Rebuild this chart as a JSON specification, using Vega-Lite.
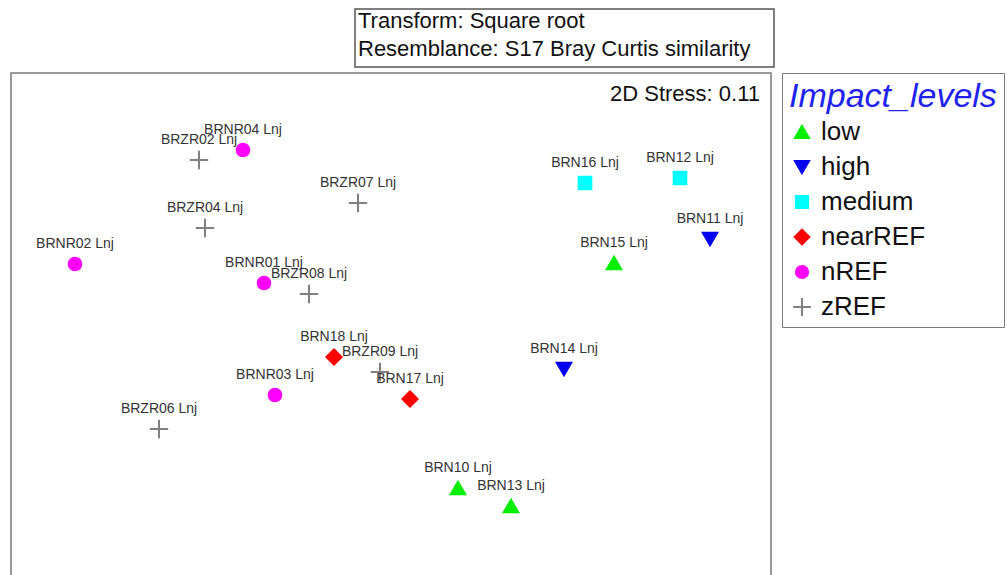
{
  "$schema": "https://vega.github.io/schema/vega-lite/v6.json",
  "padding": {"left": 10, "top": 8, "right": 0, "bottom": 0},
  "background": "white",
  "config": {
    "font": "Liberation Sans",
    "view": {"stroke": "#7a7a7a", "strokeWidth": 1.5},
    "legend": {
      "labelFont": "Liberation Sans",
      "labelFontSize": 26,
      "labelColor": "#111111",
      "titleFont": "Liberation Sans",
      "titleFontSize": 34,
      "titleFontStyle": "italic",
      "titleFontWeight": "normal",
      "titleColor": "#2222ee",
      "titleLimit": 400,
      "titlePadding": 5,
      "strokeColor": "#7a7a7a",
      "padding": 7,
      "offset": 11,
      "symbolSize": 150,
      "symbolStrokeWidth": 2,
      "rowPadding": 9,
      "labelOffset": 6
    }
  },
  "datasets": {
    "header": [
      {"line": 1, "text": "Transform: Square root"},
      {"line": 2, "text": "Resemblance: S17 Bray Curtis similarity"}
    ],
    "stress": [
      {"text": "2D Stress: 0.11"}
    ],
    "points": [
      {"label": "BRNR04 Lnj", "level": "nREF", "x": -0.74, "y": 0.885},
      {"label": "BRZR02 Lnj", "level": "zREF", "x": -0.96, "y": 0.835},
      {"label": "BRZR07 Lnj", "level": "zREF", "x": -0.165, "y": 0.62},
      {"label": "BRZR04 Lnj", "level": "zREF", "x": -0.93, "y": 0.495},
      {"label": "BRNR02 Lnj", "level": "nREF", "x": -1.58, "y": 0.315},
      {"label": "BRNR01 Lnj", "level": "nREF", "x": -0.635, "y": 0.22},
      {"label": "BRZR08 Lnj", "level": "zREF", "x": -0.41, "y": 0.165},
      {"label": "BRN18 Lnj", "level": "nearREF", "x": -0.285, "y": -0.15},
      {"label": "BRZR09 Lnj", "level": "zREF", "x": -0.055, "y": -0.225},
      {"label": "BRN17 Lnj", "level": "nearREF", "x": 0.095, "y": -0.36},
      {"label": "BRNR03 Lnj", "level": "nREF", "x": -0.58, "y": -0.34},
      {"label": "BRZR06 Lnj", "level": "zREF", "x": -1.16, "y": -0.51},
      {"label": "BRN10 Lnj", "level": "low", "x": 0.335, "y": -0.805},
      {"label": "BRN13 Lnj", "level": "low", "x": 0.6, "y": -0.895},
      {"label": "BRN16 Lnj", "level": "medium", "x": 0.97, "y": 0.72},
      {"label": "BRN12 Lnj", "level": "medium", "x": 1.445, "y": 0.745},
      {"label": "BRN11 Lnj", "level": "high", "x": 1.595, "y": 0.44},
      {"label": "BRN15 Lnj", "level": "low", "x": 1.115, "y": 0.32},
      {"label": "BRN14 Lnj", "level": "high", "x": 0.865, "y": -0.21}
    ]
  },
  "spacing": 3,
  "resolve": {"legend": {"fill": "independent", "stroke": "independent", "shape": "independent"}},
  "vconcat": [
    {
      "spacing": 0,
      "hconcat": [
        {
          "width": 343,
          "height": 58,
          "view": {"stroke": null},
          "data": {"values": []},
          "mark": {"type": "text"}
        },
        {
          "width": 419,
          "height": 58,
          "view": {"stroke": "#555555", "strokeWidth": 1.5},
          "data": {"name": "header"},
          "mark": {"type": "text", "align": "left", "dx": 3, "dy": -3, "fontSize": 22, "font": "Liberation Sans", "color": "#111111"},
          "encoding": {
            "x": {"datum": 0, "type": "quantitative", "scale": {"domain": [0, 1]}, "axis": null},
            "y": {"field": "line", "type": "ordinal", "scale": {"type": "point", "padding": 0.574}, "axis": null},
            "text": {"field": "text"}
          }
        }
      ]
    },
    {
      "width": 760,
      "height": 508,
      "layer": [
        {
          "data": {"name": "points"},
          "mark": {"type": "point", "filled": true, "opacity": 1, "strokeWidth": 2, "size": 160},
          "encoding": {
            "x": {"field": "x", "type": "quantitative", "scale": {"domain": [-1.9, 1.9], "nice": false, "zero": false}, "axis": null},
            "y": {"field": "y", "type": "quantitative", "scale": {"domain": [-1.27, 1.27], "nice": false, "zero": false}, "axis": null},
            "shape": {"field": "level", "type": "nominal", "title": "Impact_levels",
              "scale": {"domain": ["low", "high", "medium", "nearREF", "nREF", "zREF"],
                        "range": ["M0,-1L1.15,1L-1.15,1Z", "M0,1L1.15,-1L-1.15,-1Z", "square", "M-1.2,0L0,-1.2L1.2,0L0,1.2Z", "circle", "M-1.45,0H1.45M0,-1.45V1.45"]}},
            "fill": {"field": "level", "type": "nominal", "title": "Impact_levels",
              "scale": {"domain": ["low", "high", "medium", "nearREF", "nREF", "zREF"],
                        "range": ["#00ee00", "#0000ee", "#00ffff", "#ff0000", "#ff00ff", "#808080"]}},
            "stroke": {"field": "level", "type": "nominal", "title": "Impact_levels",
              "scale": {"domain": ["low", "high", "medium", "nearREF", "nREF", "zREF"],
                        "range": ["#00ee00", "#0000ee", "#00ffff", "#ff0000", "#ff00ff", "#808080"]}}
          }
        },
        {
          "data": {"name": "points"},
          "mark": {"type": "text", "dy": -20, "fontSize": 14, "font": "Liberation Sans", "color": "#333333"},
          "encoding": {
            "x": {"field": "x", "type": "quantitative"},
            "y": {"field": "y", "type": "quantitative"},
            "text": {"field": "label", "type": "nominal"}
          }
        },
        {
          "data": {"name": "stress"},
          "mark": {"type": "text", "align": "right", "baseline": "middle", "dx": -11, "dy": 21, "fontSize": 22, "font": "Liberation Sans", "color": "#111111"},
          "encoding": {
            "x": {"datum": 1.9, "type": "quantitative"},
            "y": {"datum": 1.27, "type": "quantitative"},
            "text": {"field": "text", "type": "nominal"}
          }
        }
      ]
    }
  ]
}
